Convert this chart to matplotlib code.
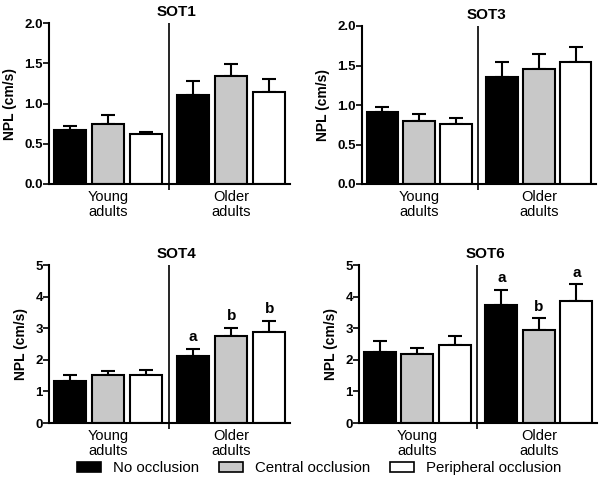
import matplotlib
matplotlib.use('Agg')
import matplotlib.pyplot as plt
from matplotlib.patches import Patch

plt.rcParams['font.family'] = ['Liberation Sans', 'DejaVu Sans']

groups = ['Young\nadults', 'Older\nadults']
conditions = ['No occlusion', 'Central occlusion', 'Peripheral occlusion']
colors = ['black', '#c8c8c8', 'white']

# means per condition: [young, older]
sot1_mean = [[0.67, 1.10], [0.75, 1.34], [0.62, 1.14]]
sot1_err = [[0.05, 0.18], [0.11, 0.15], [0.03, 0.16]]
sot3_mean = [[0.91, 1.35], [0.80, 1.46], [0.76, 1.54]]
sot3_err = [[0.06, 0.19], [0.08, 0.18], [0.08, 0.19]]
sot4_mean = [[1.32, 2.12], [1.53, 2.74], [1.53, 2.89]]
sot4_err = [[0.19, 0.22], [0.12, 0.28], [0.15, 0.35]]
sot6_mean = [[2.25, 3.72], [2.18, 2.95], [2.48, 3.85]]
sot6_err = [[0.36, 0.49], [0.18, 0.36], [0.28, 0.54]]
sot4_letters = [['', 'a'], ['', 'b'], ['', 'b']]
sot6_letters = [['', 'a'], ['', 'b'], ['', 'a']]

panels = [
    ('SOT1', sot1_mean, sot1_err, None, 2.0, [0.0, 0.5, 1.0, 1.5, 2.0], '%.1f',
     [49, 23, 290, 184]),
    ('SOT3', sot3_mean, sot3_err, None, 2.0, [0.0, 0.5, 1.0, 1.5, 2.0], '%.1f',
     [362, 26, 596, 184]),
    ('SOT4', sot4_mean, sot4_err, sot4_letters, 5, [0, 1, 2, 3, 4, 5], '%d',
     [49, 265, 290, 423]),
    ('SOT6', sot6_mean, sot6_err, sot6_letters, 5, [0, 1, 2, 3, 4, 5], '%d',
     [359, 265, 597, 423]),
]

W, H = 600, 487
fig = plt.figure(figsize=(W / 100, H / 100), dpi=100)

group_start = [0.55, 3.8]
divider = 3.15
bar_w = 0.85

for title, means, errs, letters, ymax, yticks, fmt, box in panels:
    x0, y0, x1, y1 = box
    ax = fig.add_axes([x0 / W, 1 - y1 / H, (x1 - x0) / W, (y1 - y0) / H])
    for c in range(3):
        xs = [g + c for g in group_start]
        ax.bar(xs, means[c], width=bar_w, color=colors[c], edgecolor='black',
               linewidth=1.5, zorder=2)
        ax.errorbar(xs, means[c], yerr=[[0, 0], errs[c]], fmt='none',
                    ecolor='black', elinewidth=1.5, capsize=5, capthick=1.5,
                    zorder=1)
        if letters:
            for g in range(2):
                if letters[c][g]:
                    ax.text(xs[g], means[c][g] + errs[c][g] + ymax * 0.03,
                            letters[c][g], ha='center', va='bottom',
                            fontsize=11, fontweight='bold')
    ax.axvline(divider, color='black', linewidth=1.2)
    ax.set_xlim(0, 6.35)
    ax.set_ylim(0, ymax)
    ax.set_yticks(yticks)
    ax.set_yticklabels([fmt % t for t in yticks], fontweight='bold', fontsize=9.5)
    ax.set_xticks([divider])
    ax.set_xticklabels([''])
    ax.tick_params(axis='both', direction='out', length=4, width=1.2, pad=0.5)
    for s in ['top', 'right']:
        ax.spines[s].set_visible(False)
    for s in ['left', 'bottom']:
        ax.spines[s].set_linewidth(1.5)
    for g in range(2):
        ax.text(group_start[g] + 1, -0.035, groups[g],
                transform=ax.get_xaxis_transform(), ha='center', va='top',
                fontsize=10.5, linespacing=1.1)
    ax.set_ylabel('NPL (cm/s)', fontweight='bold', fontsize=10, labelpad=5)
    ax.set_title(title, fontweight='bold', fontsize=11, x=0.53, pad=5)

handles = [Patch(facecolor=colors[i], edgecolor='black', linewidth=1.2,
                 label=conditions[i]) for i in range(3)]
fig.legend(handles=handles, loc='center', bbox_to_anchor=(0.532, 1 - 468 / H),
           ncol=3, frameon=False, fontsize=10.8, handlelength=1.6,
           handleheight=0.7, columnspacing=1.3, handletextpad=0.8)

fig.savefig('out.png', dpi=100)
